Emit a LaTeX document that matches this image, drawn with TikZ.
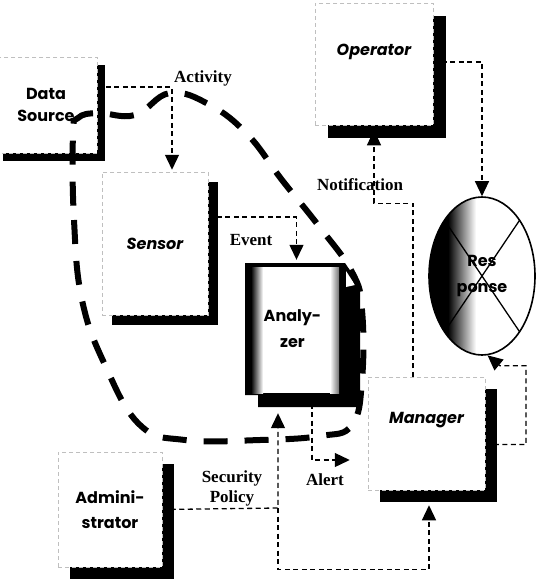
\documentclass[tikz,border=0pt]{standalone}
\usepackage{fontspec}
\newfontfamily\cartoon{Poppins}
\newfontfamily\tagfont{Liberation Serif}
\usetikzlibrary{arrows.meta,positioning,shapes.geometric,shadows,calc,backgrounds}

\begin{document}
\begin{tikzpicture}[x=1pt, y=-1pt,
  actor/.style={rectangle, draw=black!25, dash pattern=on 4pt off 3pt, line width=0.5pt, fill=white, inner sep=0pt, align=center, font=\cartoon\bfseries\fontsize{16}{22}\selectfont, general shadow={fill=black, shadow xshift=#1, shadow yshift=-#1}},
  slant/.style={font=\cartoon\bfseries\itshape\fontsize{16}{22}\selectfont},
  doc/.style={rectangle, minimum width=95pt, minimum height=132pt, inner sep=0pt, align=center, font=\cartoon\bfseries\fontsize{16}{26}\selectfont},
  reaction/.style={ellipse, draw, line width=1.6pt, minimum width=106pt, minimum height=158pt, inner sep=0pt, align=center, font=\cartoon\bfseries\fontsize{16}{26}\selectfont},
  tag/.style={font=\tagfont\bfseries\fontsize{17}{20}\selectfont, align=center, inner sep=0pt},
  flow/.style={draw, line width=1.3pt, dash pattern=on 5pt off 3.5pt, -{Triangle[length=15pt,width=14pt]}},
  trail/.style={draw, line width=6pt, dash pattern=on 24pt off 17pt}]

  \useasboundingbox (0,0) rectangle (536,584);

  \node[actor=8pt, minimum width=102pt, minimum height=96pt] (source) at (46,105) {Data\\Source};
  \node[actor=10pt, slant, minimum width=106pt, minimum height=143pt] (sensor) at (155,243.5) {Sensor};
  \node[actor=13pt, minimum width=118pt, minimum height=122pt, label={[slant, yshift=12pt]center:Operator}] (oper) at (374,64) {};
  \node[actor=12pt, minimum width=117pt, minimum height=113pt, label={[slant, yshift=13pt]center:Manager}] (manager) at (426.5,433.5) {};
  \node[actor=12pt, minimum width=104pt, minimum height=115pt, font=\cartoon\bfseries\fontsize{16}{25}\selectfont] (admin) at (110,509.5) {Admini-\\strator};
  \node[doc] (ana) at (292.5,329) {Analy-\\zer};
  \node[reaction] (resp) at (482,276) {Res\\ponse};

  \node[tag] (activity) at (203,78) {Activity};
  \node[tag] (event) at (251,240) {Event};
  \node[tag] (notify) at (360,185) {Notification};
  \node[tag] (policy) at (232,488) {Security\\Policy};
  \node[tag] (alert) at (325,480) {Alert};

  \coordinate (fork) at ($(admin.east -| ana.south)+(-14.5,-1.5)$);

  \begin{pgfonlayer}{background}
    \fill (245,263) -- (345,263) -- (360,285) -- (360,407) -- (258,407) -- (258,395) -- (245,395) -- cycle;
    \fill[left color=black, right color=white] (251,267) rectangle (263,393);
    \fill[white] (263,267) rectangle (330,393);
    \fill[left color=white, right color=black!55] (330,267) rectangle (339,393);
    \fill[white] (346,271) -- (346,287) -- (355,285) -- cycle;
    \begin{scope}
      \clip (resp.center) ellipse [x radius=53pt, y radius=79pt];
      \fill (425,190) rectangle (448,360);
      \fill[left color=black, right color=white] (448,190) rectangle (476,360);
      \draw[line width=1.3pt] (resp.north east) -- (resp.south west);
      \draw[line width=1.3pt] (resp.north west) -- (resp.south east);
    \end{scope}
    \path[flow] ($(source.east)+(0,-18)$) -| ($(sensor.north)+(17,-2)$);
    \path[flow] ($(sensor.east)+(0,-26.5)$) -| ($(ana.north)+(4,-3)$);
    \path[flow] ($(manager.north)+(-13.5,0)$) |- ($(oper.south)+(0,78)$) -- ($(oper.south)+(0,5)$);
    \path[flow] ($(oper.east)+(0,-2)$) -| (resp.north);
    \path[flow] ($(manager.east)+(0,11)$) -| ($(resp.south)+(44,10)$) -- ($(resp.south)+(18,10)$) -- (resp.-86);
    \path[flow] ($(ana.south)+(19.5,0)$) |- ($(manager.west)+(-18,26.5)$);
    \path[flow] (admin.east) -- (fork) -- ($(ana.south -| fork)+(0,18)$);
    \path[flow] (fork) |- ($(manager.south)+(2.5,79)$) -- ($(manager.south)+(2.5,15)$);
  \end{pgfonlayer}

  \path[trail] plot[smooth cycle, tension=0.7] coordinates {(73,135) (74,220) (82,300) (105,365) (140,425) (185,440) (260,440) (320,436) (352,425) (362,380) (362,310) (352,272) (318,225) (282,180) (248,135) (210,105) (170,93) (135,115) (98,113) (78,118)};
\end{tikzpicture}
\end{document}
